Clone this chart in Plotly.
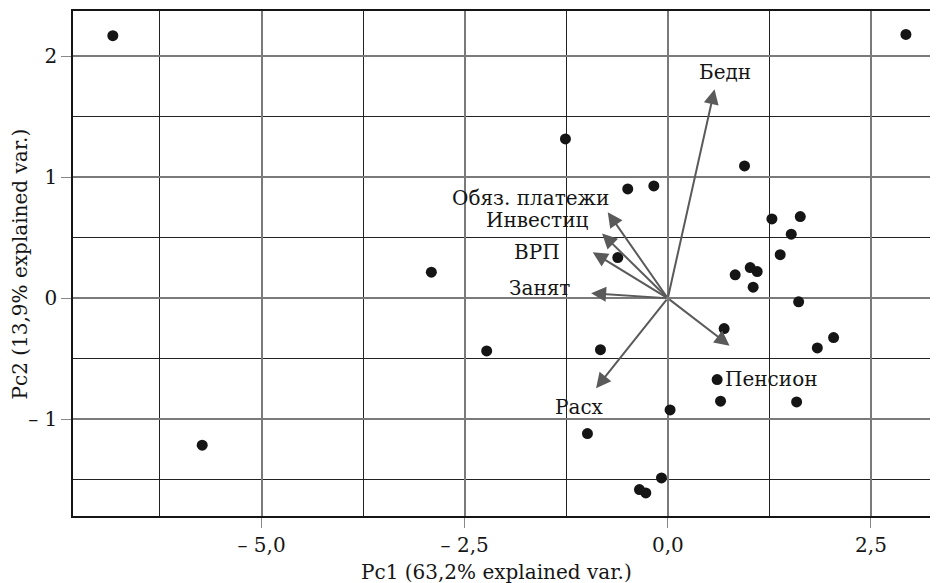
import plotly.graph_objects as go

# Observations (PC scores)
pc1 = [-6.83, -2.91, 2.93, -1.26, 0.944, -0.493, -0.172, 1.281, 1.63, 1.519,
       1.383, -0.616, 0.829, 1.014, 1.10, 1.05, 1.61, 0.693, 2.04, 1.84,
       -2.229, -0.829, 0.607, 0.649, 1.585, 0.028, -0.989, -0.078, -0.349, -0.271,
       -5.73]
pc2 = [2.17, 0.215, 2.18, 1.317, 1.093, 0.903, 0.928, 0.655, 0.675, 0.529,
       0.36, 0.336, 0.193, 0.253, 0.22, 0.091, -0.03, -0.251, -0.325, -0.411,
       -0.436, -0.425, -0.672, -0.851, -0.857, -0.923, -1.119, -1.485, -1.582, -1.609,
       -1.215]

# Variable loadings (arrow tips)
var_names = ["Бедн", "Обяз. платежи", "Инвестиц", "ВРП", "Занят", "Пенсион", "Расх"]
load_x = [0.575, -0.739, -0.809, -0.924, -0.944, 0.76, -0.883]
load_y = [1.727, 0.711, 0.534, 0.38, 0.041, -0.392, -0.744]
label_x = [0.706, -1.693, -1.613, -1.607, -1.576, 1.272, -1.084]
label_y = [1.868, 0.826, 0.647, 0.385, 0.083, -0.667, -0.901]

# Axis ticks
x_tickvals = [-5, -2.5, 0, 2.5]
x_ticktext = ["– 5,0", "– 2,5", "0,0", "2,5"]
y_tickvals = [-1, 0, 1, 2]
y_ticktext = ["– 1", "0", "1", "2"]
x_minor = [-6.25, -3.75, -1.25, 1.25]
y_minor = [-1.5, -0.5, 0.5, 1.5]
x_title = "Pc1 (63,2% explained var.)"
y_title = "Pc2 (13,9% explained var.)"

FONT = "DejaVu Serif"
INK = "#151515"

fig = go.Figure()
fig.add_trace(go.Scatter(
    x=pc1, y=pc2, mode="markers",
    marker=dict(color=INK, size=11),
    showlegend=False, hoverinfo="skip"))

annotations = []
for name, lx, ly, tx, ty in zip(var_names, load_x, load_y, label_x, label_y):
    annotations.append(dict(
        x=lx, y=ly, ax=0, ay=0, xref="x", yref="y", axref="x", ayref="y",
        text="", showarrow=True, arrowhead=2, arrowsize=1.5, arrowwidth=2,
        arrowcolor="#5a5a5a"))
    annotations.append(dict(
        x=tx, y=ty, xref="x", yref="y", text=name, showarrow=False,
        font=dict(family=FONT, size=20, color=INK),
        xanchor="center", yanchor="middle"))

annotations.append(dict(
    x=0.49, y=-0.111, xref="paper", yref="paper", text=x_title, showarrow=False,
    font=dict(family=FONT, size=20, color=INK), xanchor="center", yanchor="middle"))
annotations.append(dict(
    x=-0.0613, y=0.5, xref="paper", yref="paper", text=y_title, showarrow=False,
    textangle=-90, font=dict(family=FONT, size=20, color=INK),
    xanchor="center", yanchor="middle"))

# page body has an 8px margin, so the figure is sized to fit the 938x583 window
fig.update_layout(
    width=930, height=575,
    margin=dict(l=65, r=0, t=3, b=67, autoexpand=False),
    paper_bgcolor="white", plot_bgcolor="white",
    font=dict(family=FONT, size=20, color=INK),
    annotations=annotations,
    xaxis=dict(
        range=[-7.32, 3.325], tickmode="array", tickvals=x_tickvals, ticktext=x_ticktext,
        ticks="outside", ticklen=10, tickcolor="#888", tickwidth=1,
        tickfont=dict(size=20, color=INK), automargin=False,
        showgrid=True, gridcolor="#7a7a7a", gridwidth=1.5,
        minor=dict(tickmode="array", tickvals=x_minor, showgrid=True,
                   gridcolor="#222", gridwidth=1, ticks=""),
        showline=True, linecolor=INK, linewidth=1.5, mirror=True,
        zeroline=False,
    ),
    yaxis=dict(
        range=[-1.80, 2.374], tickmode="array", tickvals=y_tickvals, ticktext=y_ticktext,
        ticks="outside", ticklen=10, tickcolor="#888", tickwidth=1,
        tickfont=dict(size=20, color=INK), automargin=False,
        showgrid=True, gridcolor="#7a7a7a", gridwidth=1.5,
        minor=dict(tickmode="array", tickvals=y_minor, showgrid=True,
                   gridcolor="#222", gridwidth=1, ticks=""),
        showline=True, linecolor=INK, linewidth=1.5, mirror=False,
        zeroline=False,
    ),
)

fig.write_html("out.html")
